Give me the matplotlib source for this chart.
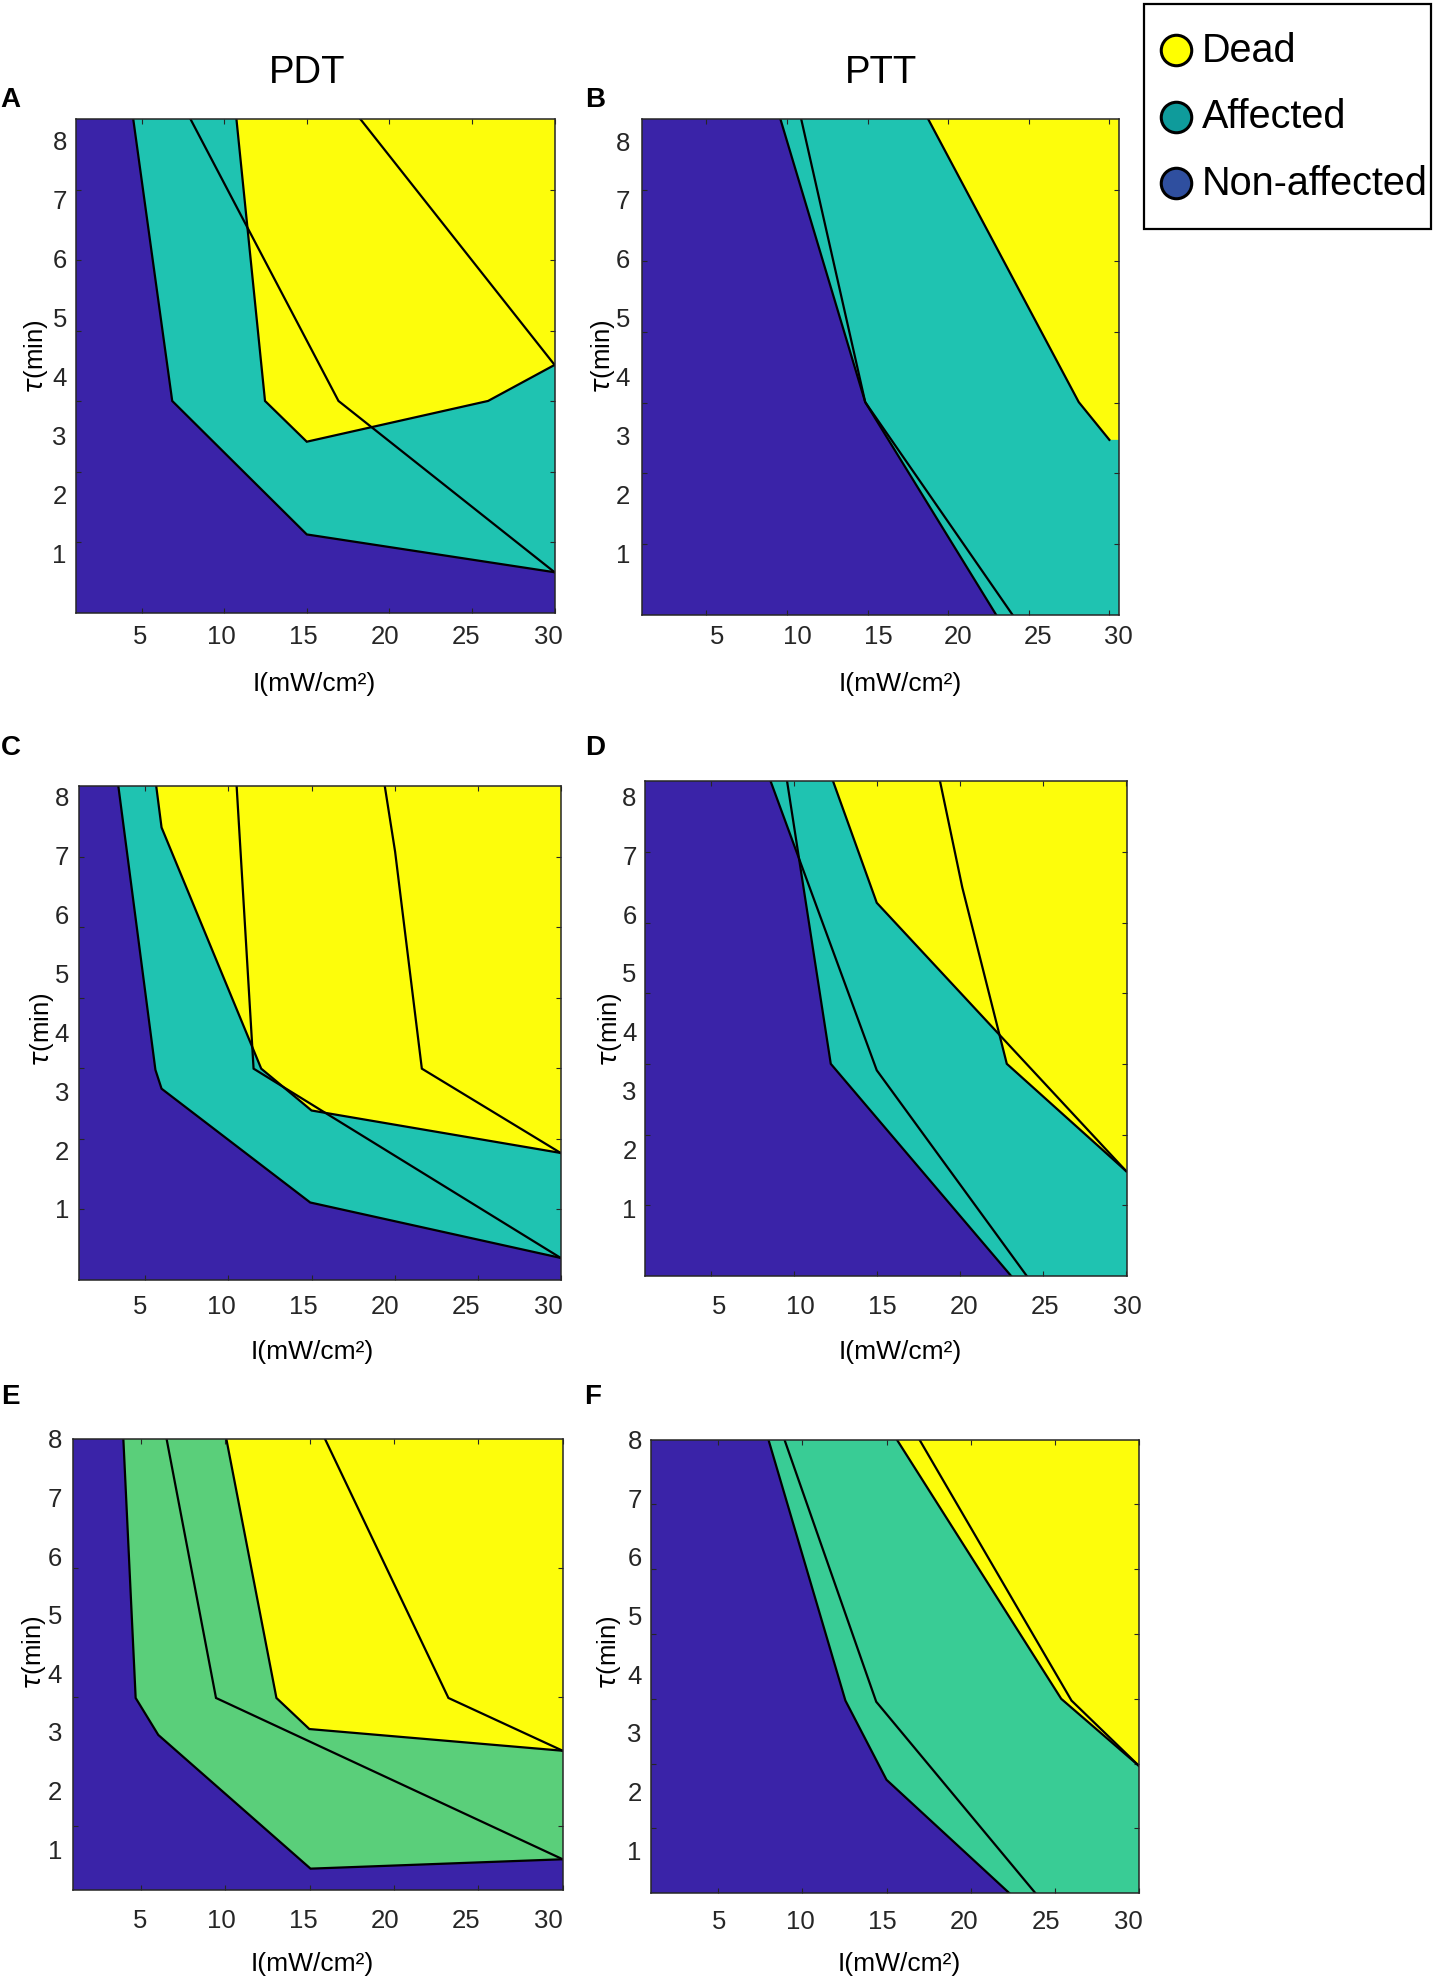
import matplotlib
matplotlib.use("Agg")
import matplotlib.pyplot as plt
from matplotlib.patches import Polygon, Rectangle

plt.rcParams['font.family'] = ['Liberation Sans', 'DejaVu Sans']
plt.rcParams['mathtext.fontset'] = 'dejavusans'

# ------------------------------------------------------------------
# Data: region boundaries, intensity I (mW/cm^2) vs exposure tau (min)
# "nonaff" = edge of the non-affected region, "dead" = edge of the dead region
# ------------------------------------------------------------------
# Panel A (PDT)
A_nonaff1_I = [4.48, 6.84, 14.99, 30.0]
A_nonaff1_tau = [8.36, 3.59, 1.33, 0.69]
A_nonaff2_I = [7.95, 16.91, 30.0]
A_nonaff2_tau = [8.36, 3.59, 0.69]
A_dead1_I = [10.73, 12.46, 14.99, 25.97, 30.0]
A_dead1_tau = [8.36, 3.59, 2.90, 3.59, 4.20]
A_dead2_I = [18.24, 30.0]
A_dead2_tau = [8.36, 4.20]

# Panel B (PTT)
B_nonaff1_I = [9.59, 14.85, 23.0]
B_nonaff1_tau = [8.37, 3.57, -0.05]
B_nonaff2_I = [10.88, 14.85, 24.02]
B_nonaff2_tau = [8.37, 3.57, -0.05]
B_dead1_I = [18.76, 28.10, 30.0]
B_dead1_tau = [8.37, 3.57, 2.93]
B_dead2_I = []
B_dead2_tau = []

# Panel C (PDT)
C_nonaff1_I = [3.37, 5.60, 5.97, 14.92, 30.0]
C_nonaff1_tau = [8.17, 3.36, 3.04, 1.11, 0.17]
C_nonaff2_I = [10.49, 11.51, 30.0]
C_nonaff2_tau = [8.17, 3.38, 0.17]
C_dead1_I = [5.65, 5.97, 11.97, 15.0, 30.0]
C_dead1_tau = [8.17, 7.47, 3.38, 2.67, 1.95]
C_dead2_I = [19.41, 20.03, 21.64, 30.0]
C_dead2_tau = [8.17, 7.06, 3.38, 1.95]

# Panel D (PTT)
D_nonaff1_I = [9.58, 12.21, 23.08]
D_nonaff1_tau = [8.25, 3.46, -0.14]
D_nonaff2_I = [8.59, 14.98, 24.02]
D_nonaff2_tau = [8.25, 3.35, -0.14]
D_dead1_I = [12.35, 14.98, 30.0]
D_dead1_tau = [8.25, 6.19, 1.64]
D_dead2_I = [18.79, 20.13, 22.81, 30.0]
D_dead2_tau = [8.25, 6.45, 3.46, 1.64]

# Panel E (PDT)
E_nonaff1_I = [3.97, 4.70, 6.04, 15.06, 30.0]
E_nonaff1_tau = [8.0, 3.58, 2.95, 0.67, 0.83]
E_nonaff2_I = [6.53, 9.46, 30.0]
E_nonaff2_tau = [8.0, 3.58, 0.83]
E_dead1_I = [10.07, 13.04, 14.99, 30.0]
E_dead1_tau = [8.0, 3.58, 3.05, 2.68]
E_dead2_I = [15.91, 23.23, 30.0]
E_dead2_tau = [8.0, 3.58, 2.68]

# Panel F (PTT)
F_nonaff1_I = [7.98, 12.55, 14.99, 22.31]
F_nonaff1_tau = [8.0, 3.55, 2.20, 0.26]
F_nonaff2_I = [8.93, 14.38, 23.85]
F_nonaff2_tau = [8.0, 3.53, 0.26]
F_dead1_I = [15.60, 25.36, 30.0]
F_dead1_tau = [8.0, 3.58, 2.43]
F_dead2_I = [16.94, 25.97, 30.0]
F_dead2_tau = [8.0, 3.55, 2.43]

x_ticks = [5, 10, 15, 20, 25, 30]
x_tick_labels = ['5', '10', '15', '20', '25', '30']
y_ticks = [1, 2, 3, 4, 5, 6, 7, 8]
y_tick_labels = ['1', '2', '3', '4', '5', '6', '7', '8']
column_titles = ['PDT', 'PTT']
legend_labels = ['Dead', 'Affected', 'Non-affected']
x_label = 'I(mW/cm²)'
y_label = r'$\tau$(min)'

# ------------------------------------------------------------------
# Styling / layout (pixel positions of the reference figure)
# ------------------------------------------------------------------
W, H = 1435, 1985
C_DEAD = '#FDFD0B'
C_NON = '#3A23A8'
C_AFF_AD = '#1FC3B1'
C_AFF_E = '#5ACF7A'
C_AFF_F = '#39CC95'
LEG_COLORS = ['#FFFF00', '#0F9B9B', '#2F4F9F']
INK = '#262626'

# x tick-label centres (px) used by the left and right columns
XLAB_LEFT = (140.0, 548.0)
XLAB_RIGHT = (719.0, 1128.0)

panels = {
    'A': dict(rect=(75.8, 119.2, 554.6, 613.0), ylim=(0.0, 8.36), aff=C_AFF_AD,
              ylab=(36.5, 357), xlab=(314.5, 684), letter=(10.5, 97), xpad=12, ypad=9,
              minor=[1, 2, 3, 4, 5, 6], xl=XLAB_LEFT),
    'B': dict(rect=(642.0, 119.2, 1118.6, 615.2), ylim=(-0.045, 8.37), aff=C_AFF_AD,
              ylab=(603, 357), xlab=(900, 684), letter=(595, 97), xpad=10, ypad=12,
              minor=[1, 2, 3, 4, 5, 6], xl=XLAB_RIGHT),
    'C': dict(rect=(79.0, 786.2, 560.7, 1279.5), ylim=(-0.196, 8.17), aff=C_AFF_AD,
              ylab=(42, 1030), xlab=(312.5, 1352), letter=(11, 745), xpad=16, ypad=10,
              minor=[1, 2, 3, 4, 5, 6], xl=XLAB_LEFT),
    'D': dict(rect=(644.6, 781.3, 1127.1, 1275.9), ylim=(-0.136, 8.25), aff=C_AFF_AD,
              ylab=(610, 1030), xlab=(900, 1352), letter=(595.5, 745), xpad=19, ypad=8,
              minor=[1, 2, 3, 4, 5, 6], xl=XLAB_RIGHT),
    'E': dict(rect=(73.2, 1438.7, 562.7, 1890.0), ylim=(0.306, 8.0), aff=C_AFF_E,
              ylab=(34, 1653), xlab=(312.6, 1964), letter=(10, 1393.5), xpad=19, ypad=11,
              minor=[1, 3, 5], xl=XLAB_LEFT),
    'F': dict(rect=(650.8, 1439.5, 1139.4, 1893.3), ylim=(0.265, 8.0), aff=C_AFF_F,
              ylab=(609, 1653), xlab=(899, 1964), letter=(593, 1393.5), xpad=17, ypad=9,
              minor=[1, 2, 3, 4, 5, 6], xl=XLAB_RIGHT),
}

data = {
    'A': ([(A_nonaff1_I, A_nonaff1_tau), (A_nonaff2_I, A_nonaff2_tau)],
          [(A_dead1_I, A_dead1_tau), (A_dead2_I, A_dead2_tau)]),
    'B': ([(B_nonaff1_I, B_nonaff1_tau), (B_nonaff2_I, B_nonaff2_tau)],
          [(B_dead1_I, B_dead1_tau), (B_dead2_I, B_dead2_tau)]),
    'C': ([(C_nonaff1_I, C_nonaff1_tau), (C_nonaff2_I, C_nonaff2_tau)],
          [(C_dead1_I, C_dead1_tau), (C_dead2_I, C_dead2_tau)]),
    'D': ([(D_nonaff1_I, D_nonaff1_tau), (D_nonaff2_I, D_nonaff2_tau)],
          [(D_dead1_I, D_dead1_tau), (D_dead2_I, D_dead2_tau)]),
    'E': ([(E_nonaff1_I, E_nonaff1_tau), (E_nonaff2_I, E_nonaff2_tau)],
          [(E_dead1_I, E_dead1_tau), (E_dead2_I, E_dead2_tau)]),
    'F': ([(F_nonaff1_I, F_nonaff1_tau), (F_nonaff2_I, F_nonaff2_tau)],
          [(F_dead1_I, F_dead1_tau), (F_dead2_I, F_dead2_tau)]),
}

XMIN, XMAX = 1.0, 30.0


def lower_left_region(bx, by):
    """Polygon of the part of the plane left of / below a boundary polyline
    that starts at the top edge and ends on the right or bottom edge."""
    ext = 20.0
    pts = [(XMIN - ext, by[0] + ext), (bx[0], by[0] + ext)]
    pts += list(zip(bx, by))
    if bx[-1] >= XMAX - 1e-6:
        pts += [(bx[-1] + ext, by[-1]), (bx[-1] + ext, by[-1] - ext)]
    else:
        pts += [(bx[-1], by[-1] - ext)]
    pts += [(XMIN - ext, by[-1] - ext)]
    return pts


fig = plt.figure(figsize=(W / 100, H / 100), dpi=100)

for key, cfg in panels.items():
    l, t, r, b = cfg['rect']
    ax = fig.add_axes([l / W, 1 - b / H, (r - l) / W, (b - t) / H])
    ax.set_xlim(XMIN, XMAX)
    ax.set_ylim(*cfg['ylim'])
    nonaff, dead = data[key]

    ax.add_patch(Rectangle((XMIN - 5, cfg['ylim'][0] - 5), 40, 20,
                           facecolor=C_DEAD, edgecolor='none', zorder=1))
    # affected = not dead in either set
    aff = Polygon(lower_left_region(*dead[0]), closed=True, facecolor=cfg['aff'],
                  edgecolor='none', zorder=1.1)
    ax.add_patch(aff)
    if len(dead[1][0]):
        clip = Polygon(lower_left_region(*dead[1]), closed=True, transform=ax.transData)
        aff.set_clip_path(clip)
    # non-affected = non-affected in both sets
    non = Polygon(lower_left_region(*nonaff[0]), closed=True, facecolor=C_NON,
                  edgecolor='none', zorder=1.2)
    ax.add_patch(non)
    if len(nonaff[1][0]):
        clip = Polygon(lower_left_region(*nonaff[1]), closed=True, transform=ax.transData)
        non.set_clip_path(clip)

    for bx, by in nonaff + dead:
        if len(bx):
            ax.plot(bx, by, color='black', lw=1.6, zorder=2, solid_joinstyle='miter')

    # x: tick marks at the values, labels at the reference's label positions
    ax.set_xticks(x_ticks)
    ax.set_xticklabels([''] * len(x_ticks))
    x0, x1 = cfg['xl']
    n = len(x_ticks)
    lab_px = [x0 + i * (x1 - x0) / (n - 1) for i in range(n)]
    ax.set_xticks([XMIN + (p - l) / (r - l) * (XMAX - XMIN) for p in lab_px], minor=True)
    ax.set_xticklabels(x_tick_labels, minor=True)
    ax.tick_params(axis='x', which='major', direction='in', top=True, bottom=True,
                   length=3.3, width=0.8, color=INK)
    ax.tick_params(axis='x', which='minor', length=0, labelsize=18.5, labelcolor=INK,
                   pad=cfg['xpad'] * 0.72)

    # y: labels 1..8, tick marks at sevenths of the axis height
    ax.set_yticks(y_ticks)
    ax.set_yticklabels(y_tick_labels)
    lo, hi = cfg['ylim']
    ax.set_yticks([lo + k * (hi - lo) / 7 for k in cfg['minor']], minor=True)
    ax.tick_params(axis='y', which='major', length=0, labelsize=18.5, labelcolor=INK,
                   pad=cfg['ypad'] * 0.72)
    ax.tick_params(axis='y', which='minor', direction='in', left=True, right=True,
                   length=3.3, width=0.8, color=INK)
    for s in ax.spines.values():
        s.set_color(INK)
        s.set_linewidth(1.1)
        s.set_zorder(3)

# overlay for texts and legend (pixel coordinates)
ov = fig.add_axes([0, 0, 1, 1], facecolor='none')
ov.set_xlim(0, W)
ov.set_ylim(H, 0)
ov.axis('off')

PX = 100 / 72  # px per pt

for key, cfg in panels.items():
    lx, ly = cfg['letter']
    fs = 20
    ov.text(lx, ly + 0.36 * fs * PX, key, fontsize=fs, fontweight='bold',
            ha='center', va='baseline')
    ov.text(cfg['xlab'][0], cfg['xlab'][1], x_label, fontsize=19, ha='center',
            va='center', color='black')
    ov.text(cfg['ylab'][0], cfg['ylab'][1], y_label, fontsize=18.5, ha='center',
            va='center', rotation=90, color='black')

fs = 27.5
ov.text(307.6, 69 + 0.36 * fs * PX, column_titles[0], fontsize=fs, ha='center', va='baseline')
ov.text(881, 69 + 0.36 * fs * PX, column_titles[1], fontsize=fs, ha='center', va='baseline')

# legend
ov.add_patch(Rectangle((1144, 4), 287, 225.3, facecolor='white', edgecolor='black',
                       linewidth=1.6))
for lab, col, yc, yb in zip(legend_labels, LEG_COLORS, [50, 116.7, 183.3],
                            [61.7, 128.3, 195]):
    ov.scatter([1176], [yc], s=(30.5 / PX) ** 2, facecolor=col, edgecolor='black',
               linewidths=2.2, zorder=5)
    ov.text(1201.5, yb, lab, fontsize=28.5, ha='left', va='baseline')

fig.savefig('out.png', dpi=100)
